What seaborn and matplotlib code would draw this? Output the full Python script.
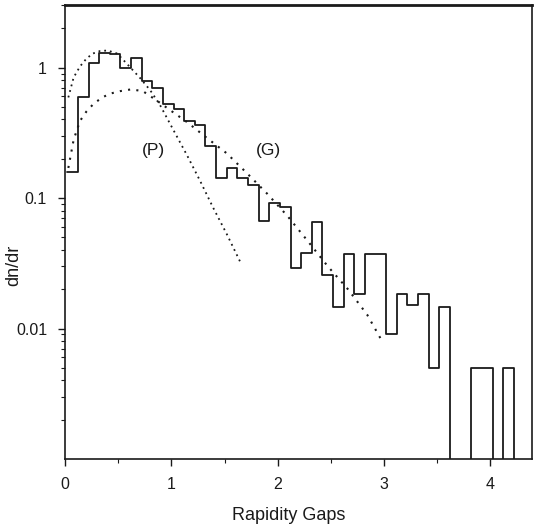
import numpy as np
import pandas as pd
import seaborn as sns
import matplotlib.pyplot as plt
from matplotlib.ticker import MultipleLocator

# histogram bins (width 0.1)
bin_left = [0.02 + 0.1 * k for k in range(42)]
dn_dr = [0.157, 0.59, 1.09, 1.30, 1.27, 1.00, 1.19, 0.79, 0.70, 0.53,
         0.48, 0.39, 0.365, 0.25, 0.143, 0.17, 0.143, 0.125, 0.067, 0.091,
         0.085, 0.029, 0.038, 0.066, 0.0255, 0.0145, 0.037, 0.0185, 0.037, 0.037,
         0.0091, 0.0185, 0.0151, 0.0185, 0.005, 0.0147, 0.0, 0.0, 0.005, 0.005,
         0.0, 0.005]

# dotted model curves
p_x = [0.03, 0.08, 0.14, 0.20, 0.26, 0.33, 0.40, 0.49, 0.58, 0.70, 0.80,
       0.89, 1.02, 1.15, 1.27, 1.39, 1.52, 1.65]
p_y = [0.59, 0.84, 1.02, 1.17, 1.28, 1.34, 1.35, 1.28, 1.07, 0.84, 0.67,
       0.52, 0.33, 0.21, 0.135, 0.085, 0.053, 0.032]
g_x = [0.03, 0.08, 0.14, 0.20, 0.27, 0.35, 0.42, 0.52, 0.62, 0.73, 0.86,
       0.99, 1.15, 1.33, 1.52, 1.71, 1.90, 2.09, 2.28, 2.47, 2.66, 2.84, 2.97]
g_y = [0.17, 0.28, 0.39, 0.46, 0.53, 0.59, 0.63, 0.66, 0.68, 0.66, 0.56,
       0.47, 0.38, 0.29, 0.22, 0.155, 0.108, 0.073, 0.047, 0.030, 0.020,
       0.0128, 0.0083]

sns.set_style("ticks")
plt.rcParams['font.family'] = ['Liberation Sans', 'DejaVu Sans']
ink = '#1a1a1a'

fig = plt.figure(figsize=(5.34, 5.27), dpi=100)
ax = fig.add_axes([0.122, 0.129, 0.874, 0.861])

# pad with an empty bin at the end so the last step drops to the floor
edges = [round(b, 2) for b in bin_left] + [round(bin_left[-1] + 0.1, 2),
                                           round(bin_left[-1] + 0.2, 2)]
centers = [e + 0.05 for e in edges[:-1]]
weights = dn_dr + [0.0]
hist_df = pd.DataFrame({'gap': centers, 'w': weights})
ax.set_yscale('log')
sns.histplot(data=hist_df, x='gap', weights='w', bins=edges, element='step',
             fill=False, color=ink, linewidth=1.3, ax=ax)

sns.lineplot(x=p_x, y=p_y, ax=ax, color=ink, linewidth=1.3,
             linestyle=(0, (1, 2.2)))
sns.lineplot(x=g_x, y=g_y, ax=ax, color=ink, linewidth=1.5,
             linestyle=(0, (1, 3)))

ax.text(0.83, 0.23, '(P)', fontsize=12.5, color=ink, ha='center', va='center')
ax.text(1.91, 0.23, '(G)', fontsize=12.5, color=ink, ha='center', va='center')

ax.set_xlim(0, 4.39)
ax.set_ylim(0.001, 3)
ax.set_xticks([0, 1, 2, 3, 4])
ax.xaxis.set_minor_locator(MultipleLocator(0.5))
ax.set_yticks([0.01, 0.1, 1])
ax.set_yticklabels(['0.01', '0.1', '1'])
ax.tick_params(axis='both', which='major', direction='out', length=5,
               width=1, colors=ink, labelsize=11.5, pad=8)
ax.tick_params(axis='both', which='minor', direction='out', length=3,
               width=0.8, colors=ink)

for side in ['top', 'right', 'left', 'bottom']:
    ax.spines[side].set_visible(True)
    ax.spines[side].set_color(ink)
    ax.spines[side].set_linewidth(1.2)
ax.spines['top'].set_linewidth(2)

ax.set_xlabel('Rapidity Gaps', fontsize=13, color=ink)
ax.set_ylabel('dn/dr', fontsize=13, color=ink)
ax.xaxis.set_label_coords(0.48, -0.105)
ax.yaxis.set_label_coords(-0.092, 0.427)

fig.savefig('out.png', dpi=100)
